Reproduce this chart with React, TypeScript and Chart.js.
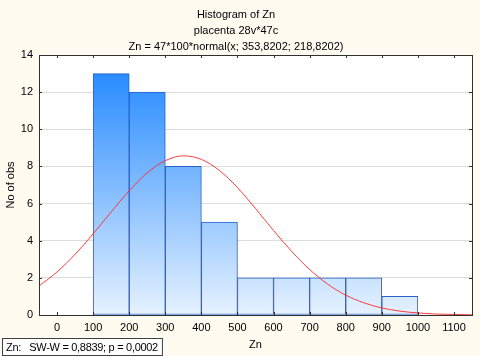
import React, { useEffect, useRef } from "react";
import { Chart, registerables } from "chart.js";

Chart.register(...registerables);

const titleLines = [
  "Histogram of Zn",
  "placenta 28v*47c",
  "Zn = 47*100*normal(x; 353,8202; 218,8202)",
];
const binCenters = [150, 250, 350, 450, 550, 650, 750, 850, 950];
const binCounts = [13, 12, 8, 5, 2, 2, 2, 2, 1];
const curveX = [
  -50, 0, 50, 100, 150, 200, 250, 300, 350, 400, 450, 500, 550, 600, 650, 700,
  750, 800, 850, 900, 950, 1000, 1050, 1100, 1150,
];
const curveY = [
  1.56, 2.32, 3.27, 4.37, 5.55, 6.69, 7.66, 8.31, 8.57, 8.38, 7.78, 6.86, 5.73,
  4.55, 3.43, 2.45, 1.66, 1.07, 0.66, 0.38, 0.21, 0.11, 0.05, 0.03, 0.01,
];
const xTicks = [0, 100, 200, 300, 400, 500, 600, 700, 800, 900, 1000, 1100];
const yTicks = [0, 2, 4, 6, 8, 10, 12, 14];
const xAxisTitle = "Zn";
const yAxisTitle = "No of obs";
const statText = "Zn:   SW-W = 0,8839; p = 0,0002";

const FONT = "Arial, 'Liberation Sans', sans-serif";

export default function App() {
  const ref = useRef<HTMLCanvasElement | null>(null);

  useEffect(() => {
    document.body.style.margin = "0";
    document.body.style.background = "#FFFBF0";
    const canvas = ref.current;
    if (!canvas) return;

    const framePlugin = {
      id: "frameAndExtras",
      beforeDraw(chart: any) {
        const { ctx, chartArea: a } = chart;
        ctx.save();
        ctx.fillStyle = "#FFFBF0";
        ctx.fillRect(0, 0, chart.width, chart.height);
        ctx.fillStyle = "#FFFFFF";
        ctx.fillRect(a.left, a.top, a.right - a.left, a.bottom - a.top);
        ctx.restore();
      },
      afterDraw(chart: any) {
        const { ctx, chartArea: a } = chart;
        const xs = chart.scales.x;
        const ys = chart.scales.y;
        ctx.save();
        ctx.strokeStyle = "#303030";
        ctx.lineWidth = 1;
        ctx.strokeRect(
          Math.round(a.left) + 0.5,
          Math.round(a.top) + 0.5,
          Math.round(a.right - a.left),
          Math.round(a.bottom - a.top)
        );
        ctx.beginPath();
        xTicks.forEach((v) => {
          const px = Math.round(xs.getPixelForValue(v)) + 0.5;
          ctx.moveTo(px, a.bottom);
          ctx.lineTo(px, a.bottom - 3);
          ctx.moveTo(px, a.top);
          ctx.lineTo(px, a.top + 3);
        });
        yTicks.forEach((v) => {
          const py = Math.round(ys.getPixelForValue(v)) + 0.5;
          ctx.moveTo(a.left, py);
          ctx.lineTo(a.left + 3, py);
          ctx.moveTo(a.right, py);
          ctx.lineTo(a.right - 3, py);
        });
        ctx.stroke();

        // stats box
        ctx.font = `11px ${FONT}`;
        try {
          (ctx as any).letterSpacing = "-0.3px";
        } catch (e) {}
        const w = ctx.measureText(statText).width + 8;
        ctx.fillStyle = "#FFFFFF";
        ctx.fillRect(2.5, 338.5, w, 17);
        ctx.strokeStyle = "#404040";
        ctx.strokeRect(2.5, 338.5, w, 17);
        ctx.fillStyle = "#000000";
        ctx.textBaseline = "middle";
        ctx.textAlign = "left";
        ctx.fillText(statText, 6, 347.5);
        ctx.restore();
      },
    };

    const chart = new Chart(canvas, {
      type: "bar",
      data: {
        datasets: [
          {
            type: "line",
            label: "normal",
            data: curveX.map((x, i) => ({ x, y: curveY[i] })),
            borderColor: "rgba(255,40,40,0.9)",
            borderWidth: 1,
            pointRadius: 0,
            cubicInterpolationMode: "monotone",
            fill: false,
            order: 0,
          } as any,
          {
            type: "bar",
            label: "Zn",
            data: binCenters.map((x, i) => ({ x, y: binCounts[i] })),
            backgroundColor: (c: any) => {
              const chart = c.chart;
              const a = chart.chartArea;
              if (!a) return "#80BCFF";
              const g = chart.ctx.createLinearGradient(0, a.top, 0, a.bottom);
              g.addColorStop(0, "#1A84FF");
              g.addColorStop(1, "#E6F2FF");
              return g;
            },
            borderColor: "#2A5FD0",
            borderWidth: 1,
            borderSkipped: false,
            barPercentage: 1,
            categoryPercentage: 1,
            order: 1,
          } as any,
        ],
      },
      options: {
        responsive: false,
        animation: false,
        layout: { padding: { top: 3, right: 8, left: 0, bottom: 0 } },
        plugins: {
          legend: { display: false },
          tooltip: { enabled: false },
          title: {
            display: true,
            text: titleLines,
            color: "#000000",
            font: { family: FONT, size: 11, weight: "normal", lineHeight: "16px" } as any,
            padding: { top: 4, bottom: 0 },
          },
        },
        scales: {
          x: {
            type: "linear",
            min: -50,
            max: 1150,
            offset: false,
            afterBuildTicks: (s: any) => {
              s.ticks = xTicks.map((v) => ({ value: v }));
            },
            afterFit: (s: any) => {
              s.height = 41;
              s.paddingLeft = 0;
              s.paddingRight = 0;
            },
            grid: { display: false, drawTicks: false },
            border: { display: false },
            ticks: {
              color: "#000000",
              font: { family: FONT, size: 11 },
              padding: 6,
              maxRotation: 0,
              autoSkip: false,
              callback: (v: any) => String(v),
            },
            title: {
              display: true,
              text: xAxisTitle,
              color: "#000000",
              font: { family: FONT, size: 11 },
              padding: { top: 0, bottom: 4 },
            },
          },
          y: {
            type: "linear",
            min: 0,
            max: 14,
            afterBuildTicks: (s: any) => {
              s.ticks = yTicks.map((v) => ({ value: v }));
            },
            afterFit: (s: any) => {
              s.width = 39;
              s.paddingTop = 0;
              s.paddingBottom = 0;
            },
            grid: { color: "#DCDCDC", drawTicks: false, lineWidth: 1 },
            border: { display: false },
            ticks: {
              color: "#000000",
              font: { family: FONT, size: 11 },
              padding: 6,
              callback: (v: any) => String(v),
            },
            title: {
              display: true,
              text: yAxisTitle,
              color: "#000000",
              font: { family: FONT, size: 11 },
              padding: { top: 4, bottom: 0 },
            },
          },
        },
      },
      plugins: [framePlugin],
    });

    return () => chart.destroy();
  }, []);

  return (
    <div style={{ position: "absolute", left: 0, top: 0, width: 480, height: 356 }}>
      <canvas ref={ref} width={480} height={356} />
    </div>
  );
}
